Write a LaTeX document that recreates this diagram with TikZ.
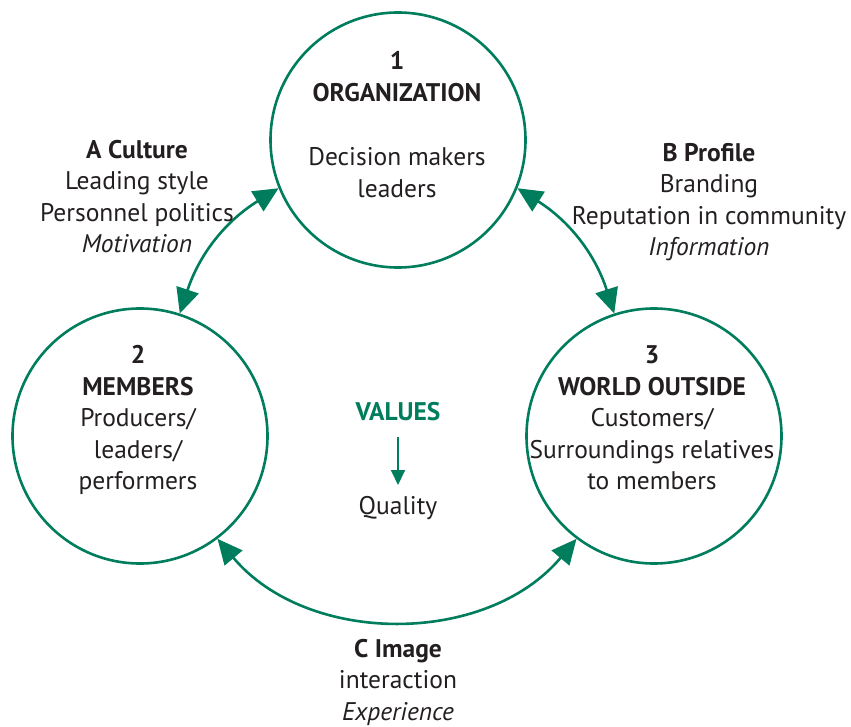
\documentclass[tikz,border=0pt]{standalone}
\usepackage{fontspec}
\setmainfont{PT Sans}
\usetikzlibrary{arrows.meta}
\definecolor{grn}{RGB}{0,125,92}
\definecolor{ink}{RGB}{35,31,32}
\tikzset{
  ring/.style={circle, draw=grn, line width=2.6pt, minimum size=255pt, inner sep=0pt},
  txt/.style={text=ink, align=center, inner sep=0pt, font=\fontsize{25.5}{31.5}\selectfont},
  arr/.style={draw=grn, line width=2.6pt, {Triangle[length=25pt,width=23pt]}-{Triangle[length=25pt,width=23pt]}},
  varr/.style={draw=grn, line width=2pt, -{Triangle[length=15pt,width=14pt]}},
}
\begin{document}
\begin{tikzpicture}[x=1pt,y=1pt]
\useasboundingbox (0,0) rectangle (851,-727);
% circles
\node[ring] (org) at (398,-140) {};
\node[ring] (mem) at (140,-436) {};
\node[ring] (out) at (654,-436) {};
% connectors
\draw[arr] (org.202) to[bend right=20] (mem.72);
\draw[arr] (org.-22) to[bend left=20] (out.108);
\draw[arr] (mem.-53) to[bend right=50] (out.233);
% circle texts
\node[txt, anchor=center] (orgh) at (397,-76.5) {\bfseries 1\\\bfseries ORGANIZATION};
\node[txt, anchor=center] (orgb) at (397,-172.5) {Decision makers\\leaders};
\node[txt, anchor=center] (memt) at (138,-420) {\bfseries 2\\\bfseries MEMBERS\\Producers/\\leaders/\\performers};
\node[txt, anchor=center] (outt) at (652,-418) {\bfseries 3\\\bfseries WORLD OUTSIDE\\Customers/\\Surroundings relatives\\to members};
% side labels
\node[txt, anchor=center] (labA) at (137,-196.5) {\textbf{A Culture}\\Leading style\\Personnel politics\\\itshape Motivation};
\node[txt, anchor=center] (labB) at (709,-202) {\textbf{B Profile}\\Branding\\Reputation in community\\\itshape Information};
\node[txt, anchor=center] (labC) at (398,-682) {\textbf{C Image}\\interaction\\\itshape Experience};
% centre
\node[txt, anchor=center, text=grn, font=\fontsize{25.5}{31.5}\selectfont\bfseries] (val) at (398,-412) {VALUES};
\node[txt, anchor=center] (qual) at (398,-508) {Quality};
\coordinate (vs) at (398,-437);
\coordinate (ve) at (398,-485);
\draw[varr] (vs) -- (ve);
\end{tikzpicture}
\end{document}
